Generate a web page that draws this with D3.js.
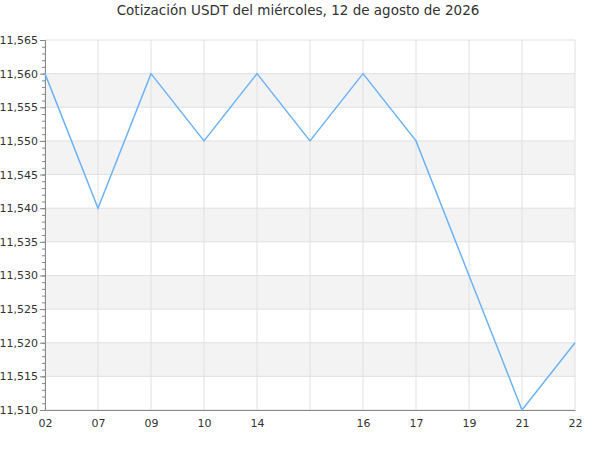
<!DOCTYPE html>
<html>
<head>
<meta charset="utf-8">
<script src="https://cdn.jsdelivr.net/npm/d3@7"></script>
<style>
  body { margin: 0; background: #fff; }
  text { font-family: "DejaVu Sans", sans-serif; }
</style>
</head>
<body>
<script>
// data
const hours = ["02", "07", "09", "10", "14", "", "16", "17", "19", "21", "22"];
const prices = [11.560, 11.540, 11.560, 11.550, 11.560, 11.550, 11.560, 11.550, 11.530, 11.510, 11.520];
const yTicks = [11.510, 11.515, 11.520, 11.525, 11.530, 11.535, 11.540, 11.545, 11.550, 11.555, 11.560, 11.565];
const title = "Cotización USDT del miércoles, 12 de agosto de 2026";

const width = 600, height = 450;
const m = {top: 40, right: 25, bottom: 40, left: 45};

const svg = d3.select("body").append("svg")
  .attr("width", width)
  .attr("height", height);

const x = d3.scalePoint()
  .domain(d3.range(hours.length))
  .range([m.left, width - m.right]);

const y = d3.scaleLinear()
  .domain([11.510, 11.565])
  .range([height - m.bottom, m.top]);

const fmt = v => d3.format(".3f")(v).replace(".", ",");

// grey bands every other step
svg.append("g").selectAll("rect")
  .data(yTicks.slice(0, -1).filter((d, i) => i % 2 === 1))
  .enter().append("rect")
  .attr("x", m.left)
  .attr("width", width - m.right - m.left)
  .attr("y", d => y(d + 0.005))
  .attr("height", d => y(d) - y(d + 0.005))
  .attr("fill", "#f3f3f3");

// horizontal grid
svg.append("g").selectAll("line")
  .data(yTicks)
  .enter().append("line")
  .attr("x1", m.left).attr("x2", width - m.right)
  .attr("y1", d => y(d)).attr("y2", d => y(d))
  .attr("stroke", "#e0e0e0");

// vertical grid
svg.append("g").selectAll("line")
  .data(d3.range(hours.length))
  .enter().append("line")
  .attr("x1", d => x(d)).attr("x2", d => x(d))
  .attr("y1", m.top).attr("y2", height - m.bottom)
  .attr("stroke", "#e0e0e0");

// y axis with minor ticks
const minor = d3.range(0, 56).map(i => 11.510 + i * 0.001);
svg.append("g")
  .attr("transform", `translate(${m.left},0)`)
  .call(d3.axisLeft(y).tickValues(minor).tickSize(3).tickFormat(""))
  .call(g => g.select(".domain").remove())
  .call(g => g.selectAll("line").attr("stroke", "#888"));

svg.append("g")
  .attr("transform", `translate(${m.left},0)`)
  .call(d3.axisLeft(y).tickValues(yTicks).tickSize(5).tickPadding(2).tickFormat(fmt))
  .call(g => g.select(".domain").attr("stroke", "#888"))
  .call(g => g.selectAll("line").attr("stroke", "#888"))
  .call(g => g.selectAll("text").attr("fill", "#333").style("font-size", "11px"));

// x axis
svg.append("g")
  .attr("transform", `translate(0,${height - m.bottom})`)
  .call(d3.axisBottom(x).tickSize(0).tickPadding(9).tickFormat(i => hours[i]))
  .call(g => g.select(".domain").attr("stroke", "#888"))
  .call(g => g.selectAll("text").attr("fill", "#333").style("font-size", "11px"));

// price line
svg.append("path")
  .datum(prices)
  .attr("fill", "none")
  .attr("stroke", "#6cb2f7")
  .attr("stroke-width", 1.5)
  .attr("d", d3.line().x((d, i) => x(i)).y(d => y(d)));

// title
svg.append("text")
  .attr("x", 298).attr("y", 15)
  .attr("text-anchor", "middle")
  .attr("fill", "#333")
  .style("font-size", "13.5px")
  .text(title);
</script>
</body>
</html>
